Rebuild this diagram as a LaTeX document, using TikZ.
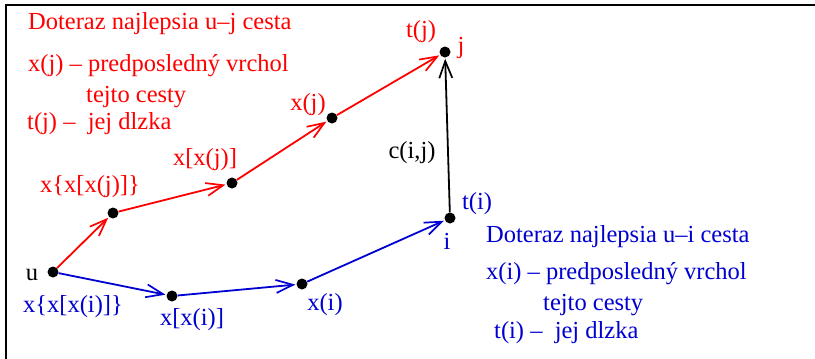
\documentclass[tikz,border=0pt]{standalone}
\usepackage{fontspec}
\setmainfont{Liberation Serif}
\usetikzlibrary{arrows.meta}
\definecolor{PathRed}{HTML}{FF0000}
\definecolor{PathBlue}{HTML}{0000D0}

\begin{document}
\begin{tikzpicture}[x=1pt,y=-1pt,
  font=\rmfamily\fontsize{24.5}{28}\selectfont,
  dot/.style={circle,fill=black,inner sep=0pt,minimum size=11pt},
  edge/.style={line width=1.8pt,shorten >=1pt,
    -{Straight Barb[length=17pt,width=13pt,line width=1.7pt]}},
  txt/.style={inner sep=0pt}]
  \path[use as bounding box] (0,0) rectangle (815,359);
  \draw[line width=1.6pt] (815,5)--(6,5)--(6,359);
  % vrcholy
  \node[dot] (u) at (53,272) {};
  \node[dot] (rA) at (113,213) {};
  \node[dot] (rB) at (232,183) {};
  \node[dot] (xj) at (332,118) {};
  \node[dot] (j) at (445,52) {};
  \node[dot] (bA) at (172,296) {};
  \node[dot] (xi) at (302,284) {};
  \node[dot] (i) at (450,218) {};
  % cesta u-j
  \draw[edge,PathRed] (u)--(rA);
  \draw[edge,PathRed] (rA)--(rB);
  \draw[edge,PathRed] (rB)--(xj);
  \draw[edge,PathRed] (xj)--(j);
  % cesta u-i
  \draw[edge,PathBlue] (u)--(bA);
  \draw[edge,PathBlue] (bA)--(xi);
  \draw[edge,PathBlue] (xi)--(i);
  \draw[edge] (i)--(j);
  % popisy
  \node[txt] (lu) at (32,275) {u};
  \node[txt,PathRed] (lj) at (461,48) {j};
  \node[txt,PathRed] (ltj) at (421,32) {t(j)};
  \node[txt,PathRed] (lxj) at (308,105) {x(j)};
  \node[txt,PathRed] (lrB) at (205,160) {x[x(j)]};
  \node[txt,PathRed] (lrA) at (90,187) {x\{x[x(j)]\}};
  \node[txt] (lc) at (412,153) {c(i,j)};
  \node[txt,PathBlue] (lti) at (477,204) {t(i)};
  \node[txt,PathBlue] (li) at (447,241) {i};
  \node[txt,PathBlue] (lbu) at (73,307) {x\{x[x(i)]\}};
  \node[txt,PathBlue] (lbA) at (192,320) {x[x(i)]};
  \node[txt,PathBlue] (lxi) at (325,305) {x(i)};
  % legenda u-j
  \node[txt,PathRed,anchor=west] (rT1) at (28,24) {Doteraz najlepsia u--j cesta};
  \node[txt,PathRed,anchor=west] (rT2) at (28,66) {x(j) -- predposledný vrchol};
  \node[txt,PathRed,anchor=west] (rT3) at (86,97) {tejto cesty};
  \node[txt,PathRed,anchor=west] (rT4) at (27,124) {t(j) --\ \ jej dlzka};
  % legenda u-i
  \node[txt,PathBlue,anchor=west] (bT1) at (486,237) {Doteraz najlepsia u--i cesta};
  \node[txt,PathBlue,anchor=west] (bT2) at (486,274) {x(i) -- predposledný vrchol};
  \node[txt,PathBlue,anchor=west] (bT3) at (543,305) {tejto cesty};
  \node[txt,PathBlue,anchor=west] (bT4) at (494,333) {t(i) --\ \ jej dlzka};
\end{tikzpicture}
\end{document}
